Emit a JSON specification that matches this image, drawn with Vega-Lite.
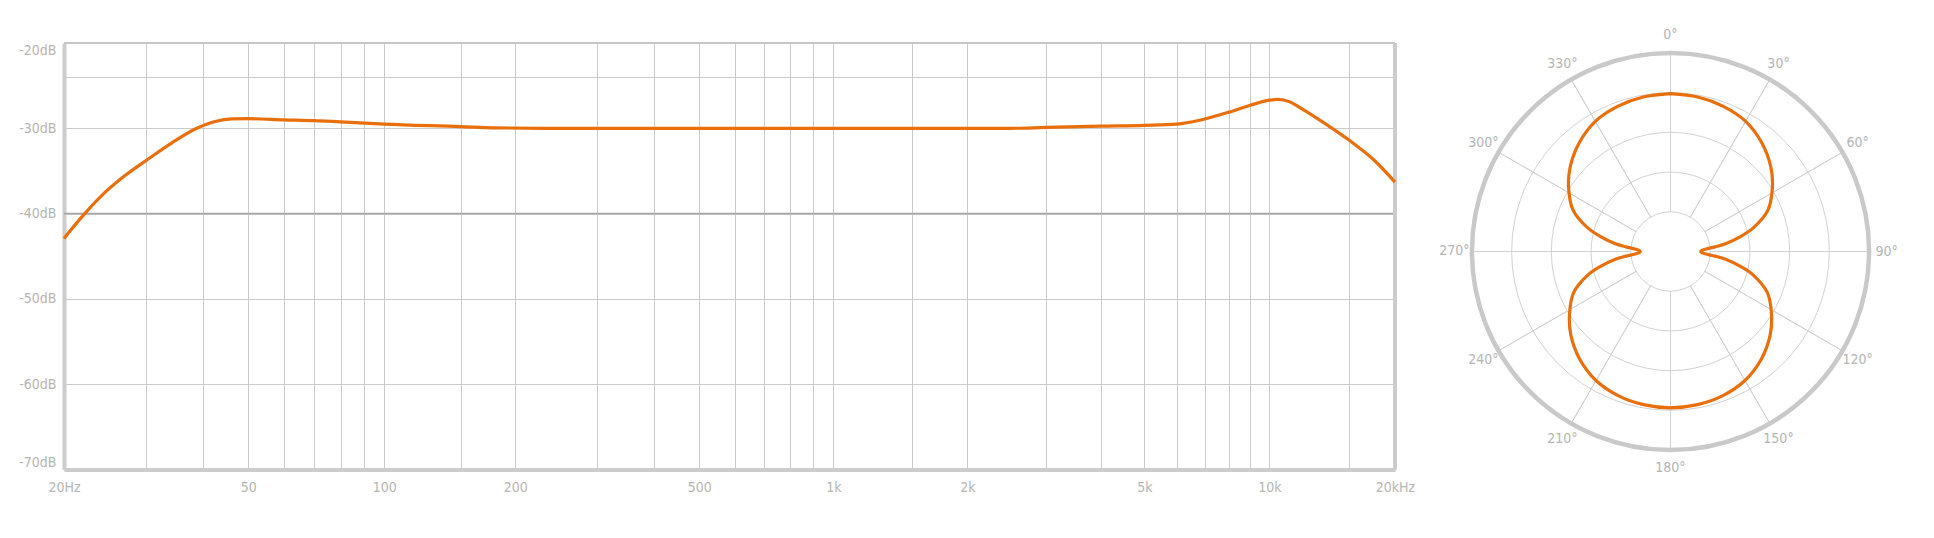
{
  "$schema": "https://vega.github.io/schema/vega-lite/v6.json",
  "description": "Microphone frequency response and figure-8 polar pattern",
  "background": "white",
  "padding": {"left": 18, "top": 28, "right": 5, "bottom": 5},
  "spacing": 67,
  "bounds": "flush",
  "config": {
    "view": {"stroke": null},
    "font": "Liberation Sans Narrow, DejaVu Sans Condensed, sans-serif",
    "axis": {
      "labelFont": "Liberation Sans Narrow, DejaVu Sans Condensed, sans-serif",
      "labelColor": "#b5b5b5",
      "labelFontSize": 14,
      "gridColor": "#cbcbcb",
      "gridWidth": 1,
      "domainColor": "#cccccc",
      "domainWidth": 4,
      "ticks": false,
      "title": null
    },
    "text": {"font": "Liberation Sans Narrow, DejaVu Sans Condensed, sans-serif"}
  },
  "hconcat": [
    {
      "width": 1331,
      "height": 426.6,
      "layer": [
        {
          "data": {"values": [{}]},
          "mark": {"type": "rule", "color": "#a9a9a9", "strokeWidth": 1.6},
          "encoding": {"y": {"datum": -40, "type": "quantitative"}}
        },
        {
          "data": {"values": [{}]},
          "mark": {"type": "rule", "color": "#c6c6c6", "strokeWidth": 2},
          "encoding": {"y": {"datum": -20, "type": "quantitative"}}
        },
        {
          "data": {"values": [{}]},
          "mark": {"type": "rule", "color": "#cccccc", "strokeWidth": 4},
          "encoding": {"x": {"datum": 20000, "type": "quantitative"}}
        },
        {
          "data": {
            "values": [
              {"freq": 20, "level": -42.9},
              {"freq": 22, "level": -40.2},
              {"freq": 24, "level": -38.0},
              {"freq": 27, "level": -35.6},
              {"freq": 30.4, "level": -33.6},
              {"freq": 34.2, "level": -31.7},
              {"freq": 38.7, "level": -30.0},
              {"freq": 42.4, "level": -29.2},
              {"freq": 46.1, "level": -28.9},
              {"freq": 50, "level": -28.87},
              {"freq": 60, "level": -29.0},
              {"freq": 70, "level": -29.1},
              {"freq": 80, "level": -29.25},
              {"freq": 100, "level": -29.5},
              {"freq": 150, "level": -29.8},
              {"freq": 180, "level": -29.95},
              {"freq": 250, "level": -30},
              {"freq": 500, "level": -30},
              {"freq": 1000, "level": -30},
              {"freq": 2000, "level": -30},
              {"freq": 2500, "level": -30},
              {"freq": 3000, "level": -29.9},
              {"freq": 4000, "level": -29.75},
              {"freq": 5000, "level": -29.65},
              {"freq": 6000, "level": -29.5},
              {"freq": 6800, "level": -29.05},
              {"freq": 8000, "level": -28.1},
              {"freq": 9000, "level": -27.3},
              {"freq": 10000, "level": -26.7},
              {"freq": 10450, "level": -26.6},
              {"freq": 11100, "level": -26.9},
              {"freq": 11700, "level": -27.6},
              {"freq": 13400, "level": -29.6},
              {"freq": 15000, "level": -31.4},
              {"freq": 17400, "level": -33.6},
              {"freq": 20000, "level": -36.3}
            ]
          },
          "mark": {"type": "line", "color": "#e96f0c", "strokeWidth": 3.2, "interpolate": "monotone"},
          "encoding": {
            "x": {
              "field": "freq",
              "type": "quantitative",
              "scale": {
                "type": "log",
                "domain": [20, 50, 100, 200, 500, 1000, 2000, 5000, 10000, 15000, 20000],
                "range": [0, 184.3, 320.3, 451.3, 635.3, 769.3, 903.3, 1080.3, 1205.3, 1285.3, 1331],
                "nice": false
              },
              "axis": {
                "values": [20, 30, 40, 50, 60, 70, 80, 90, 100, 150, 200, 300, 400, 500, 600, 700, 800, 900, 1000, 1500, 2000, 3000, 4000, 5000, 6000, 7000, 8000, 9000, 10000, 15000, 20000],
                "labelExpr": "datum.value == 20 ? '20Hz' : datum.value == 50 ? '50' : datum.value == 100 ? '100' : datum.value == 200 ? '200' : datum.value == 500 ? '500' : datum.value == 1000 ? '1k' : datum.value == 2000 ? '2k' : datum.value == 5000 ? '5k' : datum.value == 10000 ? '10k' : datum.value == 20000 ? '20kHz' : ''",
                "labelFlush": false,
                "labelOverlap": false,
                "labelPadding": 11,
                "grid": true
              }
            },
            "y": {
              "field": "level",
              "type": "quantitative",
              "scale": {"domain": [-70, -20], "nice": false, "zero": false},
              "axis": {
                "values": [-70, -60, -50, -40, -30, -24, -20],
                "labelExpr": "datum.value == -24 ? '' : datum.value + 'dB'",
                "labelFlush": true,
                "labelPadding": 8,
                "grid": true
              }
            }
          }
        }
      ]
    },
    {
      "width": 417,
      "height": 417,
      "layer": [
        {
          "data": {"values": [{"ring": 0.2}, {"ring": 0.4}, {"ring": 0.6}, {"ring": 0.8}]},
          "mark": {"type": "arc", "theta": 0, "theta2": 6.2832, "filled": false, "stroke": "#d2d2d2", "strokeWidth": 1},
          "encoding": {
            "radius": {"field": "ring", "type": "quantitative", "stack": false, "scale": {"type": "linear", "domain": [0, 1.05], "range": [0, 208.5], "zero": true, "nice": false}}
          }
        },
        {
          "data": {"values": [{"angle": 0}, {"angle": 30}, {"angle": 60}, {"angle": 90}, {"angle": 120}, {"angle": 150}, {"angle": 180}, {"angle": 210}, {"angle": 240}, {"angle": 270}, {"angle": 300}, {"angle": 330}]},
          "mark": {"type": "arc", "filled": false, "stroke": "#d2d2d2", "strokeWidth": 1},
          "encoding": {
            "theta": {"field": "angle", "type": "quantitative", "stack": false, "scale": {"domain": [0, 360], "range": [0, 6.2832]}},
            "theta2": {"field": "angle"},
            "radius": {"datum": 1, "type": "quantitative"},
            "radius2": {"datum": 0.2}
          }
        },
        {
          "data": {"values": [{"ring": 1}]},
          "mark": {"type": "arc", "theta": 0, "theta2": 6.2832, "filled": false, "stroke": "#c9c9c9", "strokeWidth": 4.5},
          "encoding": {
            "radius": {"field": "ring", "type": "quantitative", "stack": false}
          }
        },
        {
          "data": {
            "values": [
              {"angle": 0, "label": "0°"}, {"angle": 30, "label": "30°"}, {"angle": 60, "label": "60°"},
              {"angle": 90, "label": "90°"}, {"angle": 120, "label": "120°"}, {"angle": 150, "label": "150°"},
              {"angle": 180, "label": "180°"}, {"angle": 210, "label": "210°"}, {"angle": 240, "label": "240°"},
              {"angle": 270, "label": "270°"}, {"angle": 300, "label": "300°"}, {"angle": 330, "label": "330°"}
            ]
          },
          "mark": {"type": "text", "color": "#b5b5b5", "fontSize": 14, "align": "center", "baseline": "middle"},
          "encoding": {
            "theta": {"field": "angle", "type": "quantitative", "stack": false},
            "radius": {"datum": 1.088, "type": "quantitative"},
            "text": {"field": "label"}
          }
        },
        {
          "data": {
            "values": [
              {"angle": 0, "r": 0.795}, {"angle": 10, "r": 0.79}, {"angle": 20, "r": 0.778},
              {"angle": 30, "r": 0.757}, {"angle": 40, "r": 0.715}, {"angle": 50, "r": 0.66},
              {"angle": 58, "r": 0.605}, {"angle": 67, "r": 0.533}, {"angle": 74, "r": 0.435},
              {"angle": 78, "r": 0.36}, {"angle": 82, "r": 0.28}, {"angle": 84, "r": 0.225},
              {"angle": 86, "r": 0.18}, {"angle": 88, "r": 0.158}, {"angle": 90, "r": 0.152},
              {"angle": 92, "r": 0.158}, {"angle": 94, "r": 0.18}, {"angle": 96, "r": 0.225},
              {"angle": 98, "r": 0.28}, {"angle": 102, "r": 0.36}, {"angle": 106, "r": 0.435},
              {"angle": 113, "r": 0.53}, {"angle": 122, "r": 0.6}, {"angle": 130, "r": 0.655},
              {"angle": 140, "r": 0.71}, {"angle": 150, "r": 0.75}, {"angle": 160, "r": 0.772},
              {"angle": 170, "r": 0.783}, {"angle": 180, "r": 0.787}, {"angle": 190, "r": 0.783},
              {"angle": 200, "r": 0.772}, {"angle": 210, "r": 0.75}, {"angle": 220, "r": 0.71},
              {"angle": 230, "r": 0.655}, {"angle": 238, "r": 0.6}, {"angle": 247, "r": 0.53},
              {"angle": 254, "r": 0.435}, {"angle": 258, "r": 0.36}, {"angle": 262, "r": 0.28},
              {"angle": 264, "r": 0.225}, {"angle": 266, "r": 0.18}, {"angle": 268, "r": 0.158},
              {"angle": 270, "r": 0.152}, {"angle": 272, "r": 0.158}, {"angle": 274, "r": 0.18},
              {"angle": 276, "r": 0.225}, {"angle": 278, "r": 0.28}, {"angle": 282, "r": 0.36},
              {"angle": 286, "r": 0.435}, {"angle": 293, "r": 0.533}, {"angle": 302, "r": 0.605},
              {"angle": 310, "r": 0.66}, {"angle": 320, "r": 0.715}, {"angle": 330, "r": 0.757},
              {"angle": 340, "r": 0.778}, {"angle": 350, "r": 0.79}, {"angle": 360, "r": 0.795}
            ]
          },
          "transform": [
            {"calculate": "datum.r * sin(datum.angle * PI / 180)", "as": "east"},
            {"calculate": "datum.r * cos(datum.angle * PI / 180)", "as": "north"}
          ],
          "mark": {"type": "line", "color": "#e96f0c", "strokeWidth": 3.2, "interpolate": "catmull-rom"},
          "encoding": {
            "x": {"field": "east", "type": "quantitative", "scale": {"domain": [-1.05, 1.05], "nice": false, "zero": false}, "axis": null},
            "y": {"field": "north", "type": "quantitative", "scale": {"domain": [-1.05, 1.05], "nice": false, "zero": false}, "axis": null},
            "order": {"field": "angle", "type": "quantitative"}
          }
        }
      ]
    }
  ]
}
